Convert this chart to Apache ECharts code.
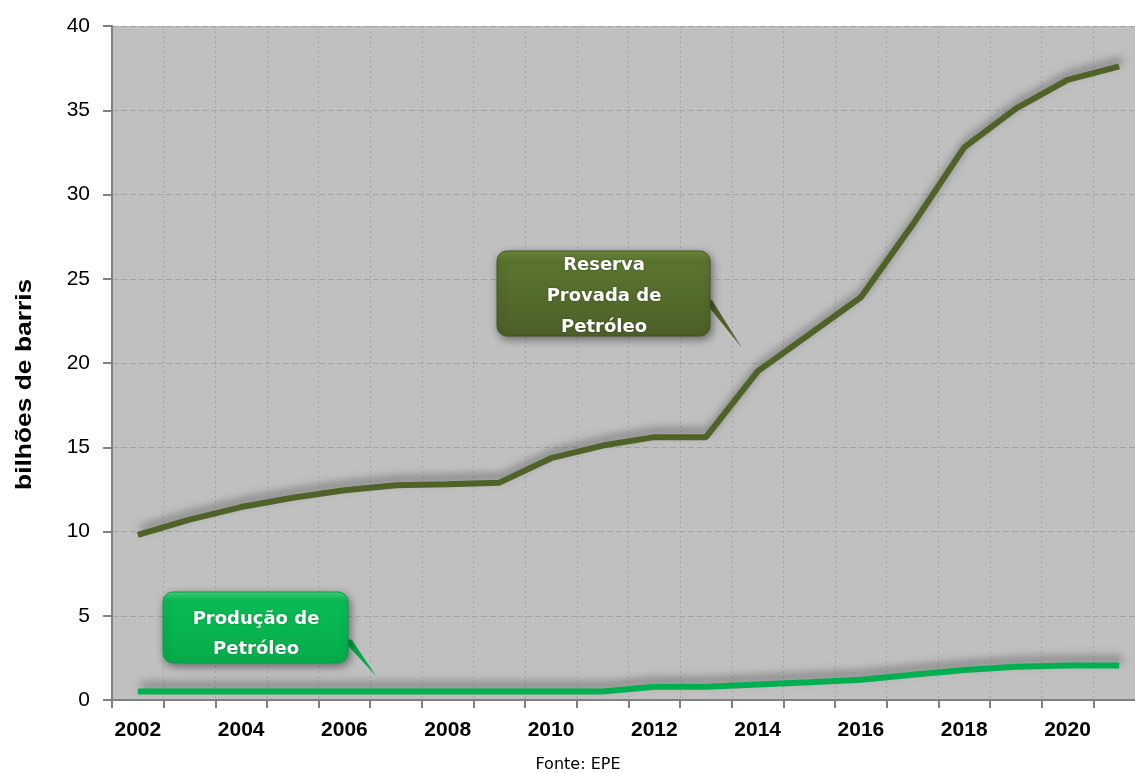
<!DOCTYPE html>
<html><head><meta charset="utf-8">
<script src="https://cdn.jsdelivr.net/npm/echarts@6/dist/echarts.min.js"></script>
<style>html,body{margin:0;padding:0;background:#fff;overflow:hidden;width:1135px;height:773px}#c{width:1145px;height:773px}</style>
</head><body><div id="c"></div>
<script>
const years = ['2002','2003','2004','2005','2006','2007','2008','2009','2010','2011','2012','2013','2014','2015','2016','2017','2018','2019','2020','2021'];
const reserva = [9.8,10.7,11.45,12.0,12.45,12.75,12.8,12.9,14.35,15.1,15.6,15.6,19.5,21.7,23.9,28.2,32.8,35.1,36.8,37.6];
const producao = [0.5,0.5,0.5,0.5,0.5,0.5,0.5,0.5,0.5,0.5,0.78,0.78,0.92,1.05,1.2,1.5,1.78,1.98,2.05,2.05];
const yTicks = [0,5,10,15,20,25,30,35,40];
const yName = 'bilhões de barris';
const source = 'Fonte: EPE';

const chart = echarts.init(document.getElementById('c'));
const font = 'Liberation Sans, Arial, sans-serif';
const calloutFont = 'DejaVu Sans, Verdana, sans-serif';
chart.setOption({
  animation:false,
  grid:{left:112,top:26,bottom:73,right:0,show:true,backgroundColor:'#c0c0c0',borderWidth:0},
  xAxis:{type:'category',data:years,boundaryGap:true,
    axisLine:{lineStyle:{color:'#808080',width:2}},
    axisTick:{show:true,interval:0,length:8,lineStyle:{color:'#808080',width:2}},
    axisLabel:{interval:1,color:'#000',fontFamily:font,fontWeight:'bold',fontSize:21,margin:20},
    splitLine:{show:true,interval:0,lineStyle:{color:'#a4a4a4',type:[2,3],width:1}}},
  yAxis:{type:'value',min:0,max:40,interval:5,
    axisLine:{show:true,lineStyle:{color:'#808080',width:2}},
    axisTick:{show:true,length:9,lineStyle:{color:'#808080',width:2}},
    axisLabel:{color:'#000',fontFamily:font,fontSize:21,margin:22,
      formatter:v=>yTicks.includes(v)?String(v):''},
    splitLine:{show:true,lineStyle:{color:'#a4a4a4',type:[6,3],width:1}}},
  series:[
    {type:'line',data:reserva,symbol:'none',lineStyle:{color:'#4f6228',width:6,
      shadowColor:'rgba(60,60,60,0.55)',shadowBlur:8,shadowOffsetX:3,shadowOffsetY:-6}},
    {type:'line',data:producao,symbol:'none',lineStyle:{color:'#00b050',width:6,
      shadowColor:'rgba(60,60,60,0.55)',shadowBlur:8,shadowOffsetX:3,shadowOffsetY:-6}}
  ],
  graphic:[
    {type:'text',x:14,y:490,rotation:Math.PI/2,scaleX:1.2,style:{text:yName,font:'bold 22px '+font,fill:'#000'}},
    {type:'text',x:578,y:765,style:{text:source,font:'16px '+calloutFont,fill:'#000',textAlign:'center',textVerticalAlign:'middle'}},
    // Reserva callout
    {type:'polygon',shape:{points:[[700,296],[712,300],[742,348]]},style:{fill:'#4f6228'},z:10},
    {type:'rect',shape:{x:497,y:251,width:213,height:85,r:10},z:11,
      style:{fill:new echarts.graphic.LinearGradient(0,0,0,1,[{offset:0,color:'#6e8c3c'},{offset:0.12,color:'#5a7530'},{offset:1,color:'#4d6027'}]),
        stroke:'#44561f',lineWidth:1,shadowColor:'rgba(0,0,0,0.45)',shadowBlur:8,shadowOffsetX:2,shadowOffsetY:3}},
    {type:'text',x:604,y:296,z:12,style:{text:'Reserva\nProvada de\nPetróleo',font:'bold 18px '+calloutFont,lineHeight:31,fill:'#fff',
      textAlign:'center',textVerticalAlign:'middle',textShadowColor:'rgba(0,0,0,0.4)',textShadowBlur:2}},
    // Produção callout
    {type:'polygon',shape:{points:[[340,637],[352,640],[376,676]]},style:{fill:'#06a84a'},z:10},
    {type:'rect',shape:{x:163,y:592,width:185,height:71,r:10},z:11,
      style:{fill:new echarts.graphic.LinearGradient(0,0,0,1,[{offset:0,color:'#3fd67d'},{offset:0.12,color:'#0bbb55'},{offset:1,color:'#05ad4a'}]),
        stroke:'#07a046',lineWidth:1,shadowColor:'rgba(0,0,0,0.45)',shadowBlur:8,shadowOffsetX:2,shadowOffsetY:3}},
    {type:'text',x:256,y:634,z:12,style:{text:'Produção de\nPetróleo',font:'bold 18px '+calloutFont,lineHeight:30,fill:'#fff',
      textAlign:'center',textVerticalAlign:'middle',textShadowColor:'rgba(0,0,0,0.3)',textShadowBlur:2}}
  ]
});
</script></body></html>
